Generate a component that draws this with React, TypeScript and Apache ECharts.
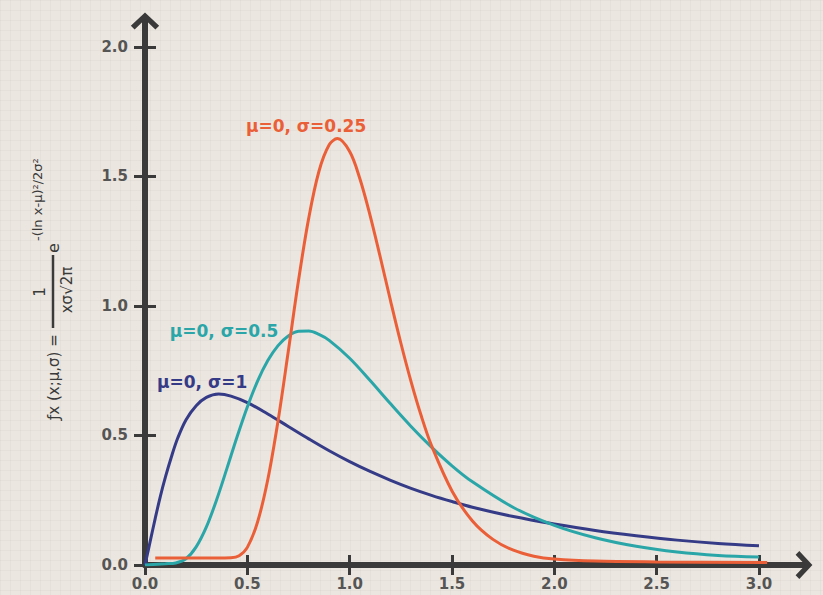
import React, { useEffect, useRef } from "react";
import * as echarts from "echarts";

// ---- data ----
const tickValuesX = [0, 0.5, 1.0, 1.5, 2.0, 2.5, 3.0];
const tickValuesY = [0, 0.5, 1.0, 1.5, 2.0];

const sigma1: [number, number][] = [
  [0, 0], [0.025, 0.09], [0.05, 0.18], [0.075, 0.265], [0.1, 0.34], [0.13, 0.42],
  [0.16, 0.49], [0.2, 0.56], [0.25, 0.615], [0.3, 0.647], [0.36, 0.66], [0.42, 0.652],
  [0.5, 0.627], [0.6, 0.583], [0.7, 0.535], [0.8, 0.487], [0.9, 0.441],
  [1.0, 0.399], [1.1, 0.361], [1.2, 0.327], [1.3, 0.296], [1.4, 0.269],
  [1.5, 0.245], [1.6, 0.223], [1.8, 0.187], [2.0, 0.158], [2.2, 0.133],
  [2.4, 0.113], [2.6, 0.096], [2.8, 0.083], [3.0, 0.074],
];

const sigma05: [number, number][] = [
  [0, 0], [0.1, 0.005], [0.15, 0.008], [0.2, 0.024], [0.25, 0.07], [0.3, 0.147],
  [0.35, 0.252], [0.4, 0.372], [0.45, 0.495], [0.5, 0.61], [0.55, 0.71],
  [0.6, 0.789], [0.65, 0.847], [0.7, 0.884], [0.75, 0.902], [0.8, 0.903],
  [0.85, 0.89], [0.9, 0.867], [1.0, 0.798], [1.1, 0.712], [1.2, 0.622],
  [1.3, 0.535], [1.4, 0.455], [1.5, 0.383], [1.6, 0.321], [1.8, 0.222],
  [2.0, 0.153], [2.2, 0.105], [2.4, 0.072], [2.6, 0.05], [2.8, 0.037], [3.0, 0.031],
];

const sigma025: [number, number][] = [
  [0.05, 0.027], [0.15, 0.027], [0.25, 0.027], [0.35, 0.027], [0.42, 0.028],
  [0.46, 0.036], [0.5, 0.068], [0.55, 0.166], [0.6, 0.33], [0.65, 0.556],
  [0.7, 0.824], [0.75, 1.098], [0.8, 1.339], [0.85, 1.52], [0.9, 1.622],
  [0.94, 1.646], [1.0, 1.596], [1.05, 1.491], [1.1, 1.349], [1.15, 1.187],
  [1.2, 1.019], [1.25, 0.857], [1.3, 0.708], [1.35, 0.575], [1.4, 0.461],
  [1.5, 0.286], [1.6, 0.17], [1.7, 0.099], [1.8, 0.057], [1.9, 0.034],
  [2.0, 0.023], [2.2, 0.015], [2.5, 0.012], [3.04, 0.01],
];

const seriesNames = ["μ=0, σ=1", "μ=0, σ=0.5", "μ=0, σ=0.25"];
const seriesColors = ["#353b87", "#2aa6a9", "#ea5f38"];
const labelCoords: [number, number][] = [[0.279, 0.707], [0.386, 0.903], [0.787, 1.695]];

const AXIS = "#3a3a3a";
const TITLE = "#3a3a3a";
const ARROW = "path://M15 0 L30 14 L26 18 L15 7.5 L4 18 L0 14 Z";

export default function App() {
  const ref = useRef<HTMLDivElement>(null);

  useEffect(() => {
    document.body.style.margin = "0";
    if (!ref.current) return;
    const chart = echarts.init(ref.current, undefined, { renderer: "svg" });

    const tickLabelStyle = {
      color: "#555555",
      fontFamily: "DejaVu Sans",
      fontWeight: "bold" as const,
      fontSize: 15,
    };

    const datasets = [sigma1, sigma05, sigma025];

    const option: any = {
      animation: false,
      backgroundColor: "transparent",
      grid: { left: 145, right: 19, top: 21, bottom: 30, containLabel: false },
      xAxis: [
        {
          type: "value",
          min: 0,
          max: 3.22,
          interval: 0.5,
          position: "bottom",
          axisLine: {
            show: true,
            onZero: false,
            symbol: ["none", ARROW],
            symbolSize: [28, 17],
            lineStyle: { color: AXIS, width: 6 },
          },
          axisTick: {
            show: true,
            length: 10,
            customValues: tickValuesX,
            lineStyle: { color: AXIS, width: 3 },
          },
          axisLabel: {
            ...tickLabelStyle,
            margin: 11,
            customValues: tickValuesX,
            formatter: (v: number) => v.toFixed(1),
          },
          splitLine: { show: false },
        },
        {
          type: "value",
          min: 0,
          max: 3.22,
          interval: 0.5,
          position: "bottom",
          axisLine: { show: false },
          axisTick: {
            show: true,
            inside: true,
            length: 10,
            customValues: tickValuesX,
            lineStyle: { color: AXIS, width: 3 },
          },
          axisLabel: { show: false },
          splitLine: { show: false },
        },
      ],
      yAxis: [
        {
          type: "value",
          min: 0,
          max: 2.1,
          interval: 0.5,
          position: "left",
          axisLine: {
            show: true,
            onZero: false,
            symbol: ["none", ARROW],
            symbolSize: [30, 17],
            lineStyle: { color: AXIS, width: 6 },
          },
          axisTick: {
            show: true,
            length: 11,
            customValues: tickValuesY,
            lineStyle: { color: AXIS, width: 3 },
          },
          axisLabel: {
            ...tickLabelStyle,
            margin: 17,
            customValues: tickValuesY,
            formatter: (v: number) => v.toFixed(1),
          },
          splitLine: { show: false },
        },
        {
          type: "value",
          min: 0,
          max: 2.1,
          interval: 0.5,
          position: "left",
          axisLine: { show: false },
          axisTick: {
            show: true,
            inside: true,
            length: 11,
            customValues: tickValuesY,
            lineStyle: { color: AXIS, width: 3 },
          },
          axisLabel: { show: false },
          splitLine: { show: false },
        },
      ],
      series: datasets.map((d, i) => ({
        name: seriesNames[i],
        type: "line",
        xAxisIndex: 0,
        yAxisIndex: 0,
        data: d,
        showSymbol: false,
        smooth: 0.35,
        lineStyle: { color: seriesColors[i], width: 3 },
        itemStyle: { color: seriesColors[i] },
        z: 3 + i,
        markPoint: {
          symbol: "rect",
          symbolSize: [1, 1],
          itemStyle: { color: "transparent" },
          label: {
            show: true,
            position: "inside",
            formatter: seriesNames[i],
            color: seriesColors[i],
            fontFamily: "DejaVu Sans",
            fontWeight: "bold",
            fontSize: 17,
          },
          data: [{ coord: labelCoords[i], value: seriesNames[i] }],
        },
      })),
      graphic: [
        {
          type: "group",
          x: 54,
          y: 420,
          rotation: Math.PI / 2,
          children: [
            {
              type: "text",
              x: 0,
              y: 0,
              style: {
                text: "ƒx (x;μ,σ) =",
                fill: TITLE,
                font: "15px 'DejaVu Sans'",
                textAlign: "left",
                textVerticalAlign: "middle",
              },
            },
            {
              type: "line",
              shape: { x1: 92, y1: -1, x2: 165, y2: -1 },
              style: { stroke: TITLE, lineWidth: 2.5 },
            },
            {
              type: "text",
              x: 128,
              y: -14,
              style: {
                text: "1",
                fill: TITLE,
                font: "15px 'DejaVu Sans'",
                textAlign: "center",
                textVerticalAlign: "middle",
              },
            },
            {
              type: "text",
              x: 130,
              y: 13,
              style: {
                text: "xσ√2π",
                fill: TITLE,
                font: "15px 'DejaVu Sans'",
                textAlign: "center",
                textVerticalAlign: "middle",
              },
            },
            {
              type: "text",
              x: 172,
              y: -1,
              style: {
                text: "e",
                fill: TITLE,
                font: "16px 'DejaVu Sans'",
                textAlign: "center",
                textVerticalAlign: "middle",
              },
            },
            {
              type: "text",
              x: 179,
              y: -17,
              style: {
                text: "-(ln x-μ)²/2σ²",
                fill: TITLE,
                font: "13px 'DejaVu Sans'",
                textAlign: "left",
                textVerticalAlign: "middle",
              },
            },
          ],
        },
      ],
    };

    chart.setOption(option);
    return () => chart.dispose();
  }, []);

  return (
    <div
      ref={ref}
      style={{
        width: 823,
        height: 595,
        backgroundColor: "#ebe6df",
        backgroundImage:
          "linear-gradient(rgba(0,0,0,0.025) 1px, transparent 1px), linear-gradient(90deg, rgba(0,0,0,0.025) 1px, transparent 1px)",
        backgroundSize: "10px 10px",
      }}
    />
  );
}
